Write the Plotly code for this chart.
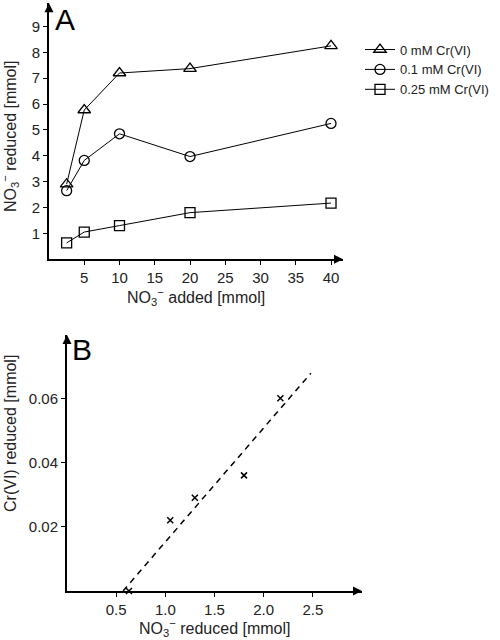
import plotly.graph_objects as go

# Panel A data
no3_added = [2.5, 5, 10, 20, 40]
red_0 = [2.9, 5.77, 7.2, 7.37, 8.25]
red_01 = [2.65, 3.82, 4.85, 3.97, 5.25]
red_025 = [0.63, 1.05, 1.3, 1.8, 2.17]
series_names = ["0 mM Cr(VI)", "0.1 mM Cr(VI)", "0.25 mM Cr(VI)"]
series_symbols = ["triangle-up-open", "circle-open", "square-open"]

# Panel B data
no3_reduced = [0.63, 1.05, 1.3, 1.8, 2.17]
cr_reduced = [0.0, 0.022, 0.029, 0.036, 0.060]
fit_x = [0.57, 2.48]
fit_y = [0.0, 0.0678]

FONT = "Liberation Sans, Arial, sans-serif"
fig = go.Figure()

for ys, name, sym, sz in zip([red_0, red_01, red_025], series_names, series_symbols, [11, 10, 10]):
    fig.add_trace(go.Scatter(
        x=no3_added, y=ys, name=name, mode="lines+markers",
        line=dict(color="black", width=1),
        marker=dict(symbol=sym, size=sz, color="black", line=dict(width=1.3, color="black")),
        xaxis="x", yaxis="y", cliponaxis=False))

fig.add_trace(go.Scatter(
    x=fit_x, y=fit_y, mode="lines", showlegend=False,
    line=dict(color="black", width=1.5, dash="6px,5px"),
    xaxis="x2", yaxis="y2"))
fig.add_trace(go.Scatter(
    x=no3_reduced, y=cr_reduced, mode="markers", showlegend=False,
    marker=dict(symbol="x-thin-open", size=6, color="black", line=dict(width=1.5, color="black")),
    xaxis="x2", yaxis="y2", cliponaxis=False))

axis_common = dict(showline=True, linecolor="black", linewidth=2, ticks="outside",
                   ticklen=4, tickcolor="black", showgrid=False, zeroline=False,
                   tickfont=dict(size=15, color="#222"), mirror=False, automargin=False)

fig.update_layout(
    template="none",
    width=500, height=640,
    margin=dict(l=0, r=0, t=0, b=0),
    paper_bgcolor="white", plot_bgcolor="white",
    font=dict(family=FONT, color="#222"),
    xaxis=dict(domain=[0.098, 0.686], range=[0, 41.7], anchor="y",
               tickvals=[5, 10, 15, 20, 25, 30, 35, 40], **axis_common),
    yaxis=dict(domain=[0.595, 0.995], range=[0, 9.9], anchor="x",
               tickvals=[1, 2, 3, 4, 5, 6, 7, 8, 9], **axis_common),
    xaxis2=dict(domain=[0.134, 0.724], range=[0, 3.0], anchor="y2",
                tickvals=[0.5, 1.0, 1.5, 2.0, 2.5], ticktext=["0.5", "1.0", "1.5", "2.0", "2.5"],
                **axis_common),
    yaxis2=dict(domain=[0.0766, 0.4766], range=[0, 0.0797], anchor="x2",
                tickvals=[0.02, 0.04, 0.06], ticktext=["0.02", "0.04", "0.06"], **axis_common),
    legend=dict(x=0.72, y=0.946, xanchor="left", yanchor="top",
                font=dict(size=13, color="#222"), tracegroupgap=0,
                itemwidth=30, bgcolor="rgba(0,0,0,0)", borderwidth=0),
    showlegend=True,
)

anns = [
    # axis titles
    dict(text="NO<sub>3</sub><sup>−</sup> reduced [mmol]", x=10, y=136, textangle=-90),
    dict(text="NO<sub>3</sub><sup>−</sup> added [mmol]", x=196, y=297, textangle=0),
    dict(text="Cr(VI) reduced [mmol]", x=10, y=434, textangle=-90),
    dict(text="NO<sub>3</sub><sup>−</sup> reduced [mmol]", x=215, y=628, textangle=0),
]
for a in anns:
    fig.add_annotation(text=a["text"], x=a["x"] / 500, y=1 - a["y"] / 640,
                       xref="paper", yref="paper", showarrow=False,
                       textangle=a["textangle"], font=dict(size=16, color="#222"),
                       xanchor="center", yanchor="middle")

# panel labels
fig.add_annotation(text="A", x=53 / 500, y=1 - 1 / 640, xref="paper", yref="paper",
                   showarrow=False, xanchor="left", yanchor="top",
                   font=dict(size=30, color="black"))
fig.add_annotation(text="B", x=70 / 500, y=1 - 331 / 640, xref="paper", yref="paper",
                   showarrow=False, xanchor="left", yanchor="top",
                   font=dict(size=30, color="black"))

# axis arrows
for (xr, yr, x, y, ax, ay) in [
    ("x domain", "y domain", 1, 0, -10, 0),
    ("x domain", "y domain", 0, 1, 0, 10),
    ("x2 domain", "y2 domain", 1, 0, -10, 0),
    ("x2 domain", "y2 domain", 0, 1, 0, 10),
]:
    fig.add_annotation(x=x, y=y, xref=xr, yref=yr, ax=ax, ay=ay, text="",
                       showarrow=True, arrowhead=2, arrowsize=1.2, arrowwidth=1.5,
                       arrowcolor="black")

fig.write_html("out.html", config={"displayModeBar": False},
               post_script="document.body.style.margin='0';document.body.style.overflow='hidden';")
